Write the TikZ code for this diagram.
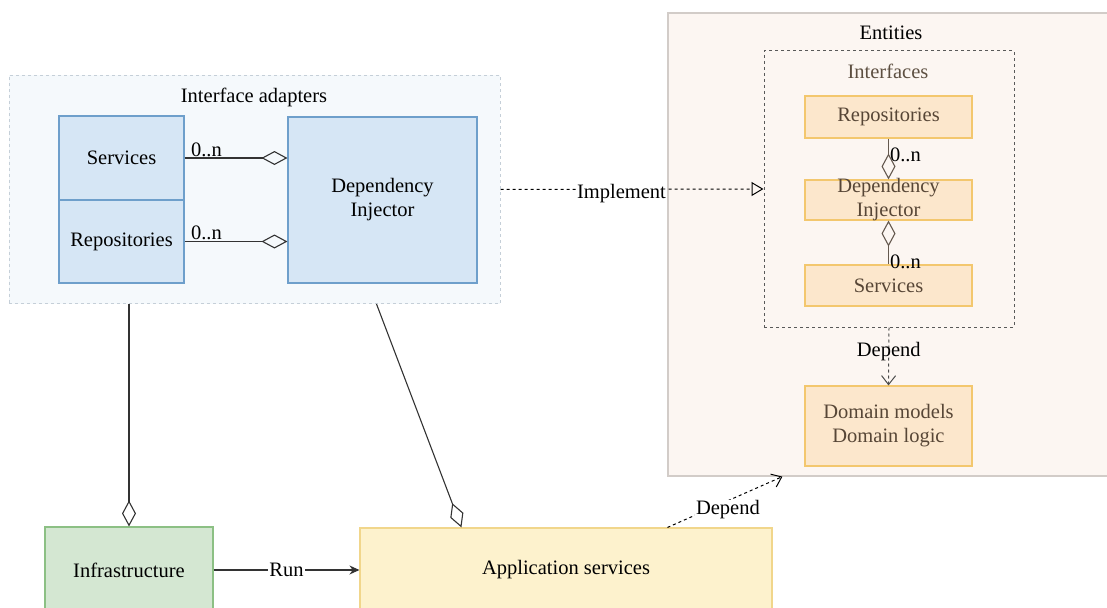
\documentclass[tikz,border=0pt]{standalone}
\usepackage{fontspec}
\setmainfont{Liberation Serif}
\usetikzlibrary{arrows.meta}

\definecolor{adapterfill}{HTML}{F5F9FC}
\definecolor{adapterline}{HTML}{C5CFD8}
\definecolor{bluefill}{HTML}{D6E6F5}
\definecolor{blueline}{HTML}{6E9FCB}
\definecolor{greenfill}{HTML}{D4E7D2}
\definecolor{greenline}{HTML}{8CC084}
\definecolor{yellowfill}{HTML}{FDF2CD}
\definecolor{yellowline}{HTML}{F1D68B}
\definecolor{entityfill}{HTML}{FCF6F2}
\definecolor{entityline}{HTML}{D2CCC8}
\definecolor{orangefill}{HTML}{FCE7CC}
\definecolor{orangeline}{HTML}{F3C76E}
\definecolor{browntext}{HTML}{574636}
\definecolor{linegray}{HTML}{333333}
\definecolor{entityconn}{HTML}{65594F}

\begin{document}
\begin{tikzpicture}[x=1pt, y=-1pt,
    every node/.style={font=\fontsize{20.5}{24}\selectfont},
    box/.style={draw, line width=1.1pt, inner sep=0pt, align=center},
    bluebox/.style={box, draw=blueline, fill=bluefill},
    greenbox/.style={box, draw=greenline, fill=greenfill},
    yellowbox/.style={box, draw=yellowline, fill=yellowfill},
    orangebox/.style={box, draw=orangeline, fill=orangefill, text=browntext},
    container/.style={draw=adapterline, fill=adapterfill, line width=1pt,
        dash pattern=on 3pt off 3pt, inner sep=0pt},
    aggr/.style={draw=linegray, line width=1.1pt},
    diam/.tip={Diamond[open, length=26pt, width=14pt]},
    vee/.tip={Straight Barb[length=9pt, width=14pt]},
    mult/.style={inner sep=1pt},
    labelbg/.style={fill=white, inner sep=1pt},
]
\useasboundingbox (0,0) rectangle (1107,607);

% ---- 外层容器 ----
\node[container, minimum width=491pt, minimum height=228pt] (adapters) at (254.5,189.5) {};
\node (adaptersTitle) at (254,97) {Interface adapters};

% Entities 容器右边超出画面
\node[draw=entityline, fill=entityfill, line width=1.2pt, inner sep=0pt,
      minimum width=560pt, minimum height=463pt] (entities) at (948,244.5) {};
\node (entitiesTitle) at (891,33) {Entities};

\node[draw=black!65, line width=1pt, dash pattern=on 3pt off 3pt, inner sep=0pt,
      minimum width=250pt, minimum height=276pt] (interfaces) at (889,189) {};
\node[text=browntext!85!gray] (interfacesTitle) at (888,71) {Interfaces};

% ---- Interface adapters 中的模块 ----
\node[bluebox, minimum width=125pt, minimum height=84pt] (svcA) at (121.5,158) {Services};
\node[bluebox, minimum width=125pt, minimum height=83pt] (repoA) at (121.5,241.5) {Repositories};
\node[bluebox, minimum width=189pt, minimum height=166pt] (injA) at (382.5,200) {Dependency\\Injector};

% ---- Entities 中的模块 ----
\node[orangebox, minimum width=167pt, minimum height=42pt] (repoE) at (888.5,117) {Repositories};
\node[orangebox, minimum width=167pt, minimum height=40pt] (injE) at (888.5,200) {};
\node[text=browntext, align=center, inner sep=0pt] (injEtext) at (injE) {Dependency\\Injector};
\node[orangebox, minimum width=167pt, minimum height=41pt] (svcE) at (888.5,285.5) {Services};
\node[orangebox, minimum width=167pt, minimum height=80pt] (domain) at (888.5,426) {Domain models\\Domain logic};

% ---- 底部模块 ----
\node[greenbox, minimum width=168pt, minimum height=86pt] (infra) at (129,570) {Infrastructure};
\node[yellowbox, minimum width=412pt, minimum height=84pt] (app) at (566,570) {Application services};

% ---- 聚合关系 ----
\draw[aggr, -{diam}] (svcA.east) -- (svcA.east -| injA.west)
    node[mult, pos=0, anchor=south west, xshift=5pt] (multSvc) {0..n};
\draw[aggr, -{diam}] (repoA.east) -- (repoA.east -| injA.west)
    node[mult, pos=0, anchor=south west, xshift=5pt] (multRepo) {0..n};
\draw[aggr, -{diam}] (infra.north |- adapters.south) -- (infra.north);
\draw[aggr, -{diam}] ([xshift=368pt]adapters.south west) -- ([xshift=102pt]app.north west);

\draw[aggr, draw=entityconn, -{diam}] (repoE.south) -- (injE.north)
    node[mult, pos=0.4, anchor=west] (multRepoE) {0..n};
\draw[aggr, draw=entityconn, {diam}-] (injE.south) -- (svcE.north)
    node[mult, pos=0.95, anchor=west] (multSvcE) {0..n};

% ---- 实现与依赖 ----
\draw[line width=1pt, dash pattern=on 3pt off 3pt, -{Triangle[open, length=12pt, width=14pt]}]
    (adapters.east) -- (interfaces.west)
    node[labelbg, pos=0.46, yshift=-4pt] (implLabel) {Implement};
\draw[line width=1pt, draw=black!70, dash pattern=on 3pt off 3pt, -{vee}]
    (interfaces.south) -- (domain.north)
    node[inner sep=0pt, pos=0.42] (dependIn) {Depend};
\draw[line width=1pt, dash pattern=on 3pt off 3pt, -{vee}]
    ([xshift=308pt]app.north west) -- ([xshift=115pt]entities.south west)
    node[labelbg, pos=0.5, xshift=3pt, yshift=-8pt] (dependOut) {Depend};

% ---- 运行 ----
\draw[aggr, -{Stealth[length=10pt, width=9pt]}] (infra.east) -- (app.west)
    node[labelbg, midway] (runLabel) {Run};
\end{tikzpicture}
\end{document}
